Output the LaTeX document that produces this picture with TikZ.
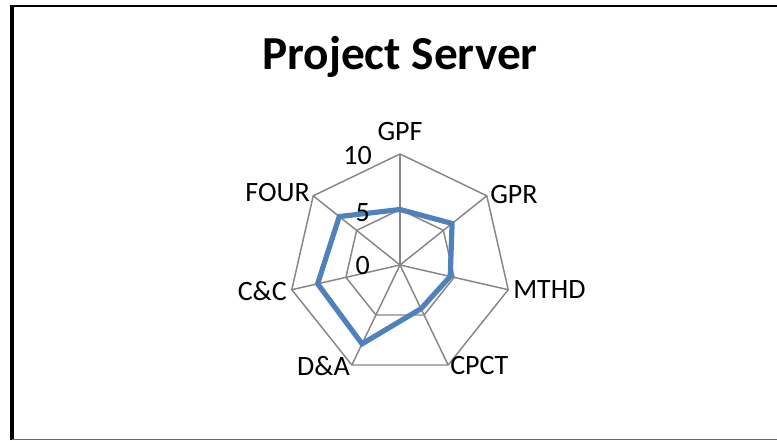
\documentclass[tikz,border=0pt]{standalone}
\usepackage{fontspec}
\setmainfont{Carlito}
\usepackage{tikz}
\usetikzlibrary{positioning}
\definecolor{series}{RGB}{79,129,189}
\definecolor{gridgray}{RGB}{134,134,134}

\begin{document}
\begin{tikzpicture}[
    x=0.75pt, y=0.75pt,
    grid/.style={draw=gridgray, line width=1.1pt, line join=miter},
    serie/.style={draw=series, line width=3.9pt, line join=miter},
    axlabel/.style={inner sep=0pt, font=\fontsize{21}{24}\selectfont},
    ticklabel/.style={axlabel, anchor=east},
    title/.style={inner sep=0pt, font=\fontsize{35.5}{40}\selectfont\bfseries}
]
    \useasboundingbox (0,0) rectangle (777,440);
    % slide frame
    \draw[line width=3pt] (12,0) -- (12,434.5);
    \draw[line width=1.5pt] (10.5,434) -- (777,434);
    \draw[draw=gridgray!80!black, line width=1pt] (12,0.5) -- (777,0.5);

    \node[title] (ttl) at (400,383) {Project Server};

    \begin{scope}[shift={(400,175)}]
        \coordinate (c) at (0,0);
        \coordinate (gpf)  at (90:111);
        \coordinate (gpr)  at (38.57:111);
        \coordinate (mthd) at (-12.86:111);
        \coordinate (cpct) at (-64.29:111);
        \coordinate (da)   at (-115.71:111);
        \coordinate (cc)   at (-167.14:111);
        \coordinate (four) at (141.43:111);
        % rings 5 and 10
        \foreach \r in {55.5,111}
            \draw[grid] (90:\r) -- (38.57:\r) -- (-12.86:\r) -- (-64.29:\r)
                -- (-115.71:\r) -- (-167.14:\r) -- (141.43:\r) -- cycle;
        % spokes
        \foreach \p in {gpf,gpr,mthd,cpct,da,cc,four}
            \draw[grid] (c) -- (\p);
        % data series
        \draw[serie] (90:55.5) -- (38.57:66.6) -- (-12.86:51.5) -- (-64.29:48.5)
            -- (-115.71:87.5) -- (-167.14:84.5) -- (141.43:77.7) -- cycle;
    \end{scope}

    \node[ticklabel] (t10) at (372,284) {10};
    \node[ticklabel] (t5)  at (370,227) {5};
    \node[ticklabel] (t0)  at (370,174) {0};

    \node[axlabel] (lgpf) at (400,308) {GPF};
    \node[axlabel, anchor=west] (lgpr)  at (490,245) {GPR};
    \node[axlabel, anchor=west] (lmthd) at (513,150) {MTHD};
    \node[axlabel, anchor=west] (lcpct) at (450,74)  {CPCT};
    \node[axlabel, anchor=east] (lda)   at (350,74)  {D\&A};
    \node[axlabel, anchor=east] (lcc)   at (287,149) {C\&C};
    \node[axlabel, anchor=east] (lfour) at (310,247) {FOUR};
\end{tikzpicture}
\end{document}
